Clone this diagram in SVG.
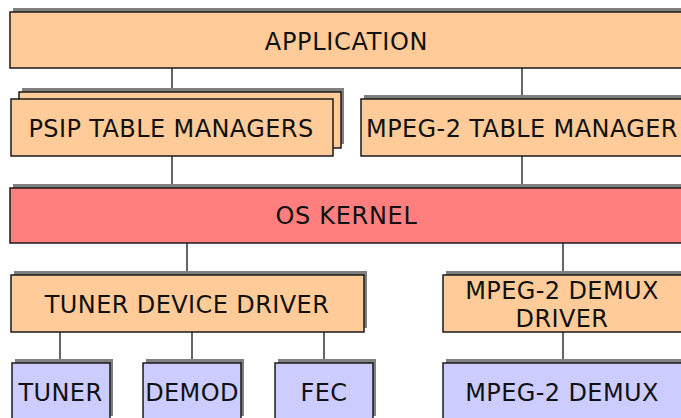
<svg xmlns="http://www.w3.org/2000/svg" width="681" height="418" viewBox="0 0 681 418">
  <style>
    .shadow { fill: #808080; }
    .box { stroke: #1a1a1a; stroke-width: 1.5; }
    .peach { fill: #FFCC99; }
    .kernel { fill: #FF7F7F; }
    .hw { fill: #CCCCFF; }
    .label { font-family: "DejaVu Sans", Verdana, sans-serif; font-size: 24px; letter-spacing: 0.4px; fill: #111; text-anchor: middle; }
    .wide { letter-spacing: 0.7px; }
    .link { stroke: #333; stroke-width: 1.5; fill: none; }
  </style>

  <!-- connectors between layers -->
  <g id="connectors">
    <line class="link" x1="172" y1="68" x2="172" y2="92"/>
    <line class="link" x1="522" y1="68" x2="522" y2="99"/>
    <line class="link" x1="172" y1="156" x2="172" y2="188"/>
    <line class="link" x1="522" y1="156" x2="522" y2="188"/>
    <line class="link" x1="187" y1="243" x2="187" y2="275"/>
    <line class="link" x1="563" y1="243" x2="563" y2="275"/>
    <line class="link" x1="60" y1="332" x2="60" y2="363"/>
    <line class="link" x1="192" y1="332" x2="192" y2="363"/>
    <line class="link" x1="324" y1="332" x2="324" y2="363"/>
    <line class="link" x1="563" y1="332" x2="563" y2="363"/>
  </g>

  <g id="application">
    <rect class="shadow" x="13" y="8" width="680" height="56"/>
    <rect class="box peach" x="10" y="12" width="680" height="56"/>
    <text class="label wide" x="346.5" y="49.5">APPLICATION</text>
  </g>

  <g id="psip-table-managers">
    <rect class="shadow" x="22" y="88" width="322" height="56"/>
    <rect class="box peach" x="19" y="92" width="322" height="56"/>
    <rect class="box peach" x="11" y="99" width="322" height="57"/>
    <text class="label" x="171" y="137">PSIP TABLE MANAGERS</text>
  </g>

  <g id="mpeg2-table-manager">
    <rect class="shadow" x="364" y="95" width="330" height="57"/>
    <rect class="box peach" x="361" y="99" width="330" height="57"/>
    <text class="label" x="522" y="137">MPEG-2 TABLE MANAGER</text>
  </g>

  <g id="os-kernel">
    <rect class="shadow" x="13" y="184" width="680" height="55"/>
    <rect class="box kernel" x="10" y="188" width="680" height="55"/>
    <text class="label wide" x="346.5" y="224">OS KERNEL</text>
  </g>

  <g id="tuner-device-driver">
    <rect class="shadow" x="14" y="271" width="353" height="57"/>
    <rect class="box peach" x="11" y="275" width="353" height="57"/>
    <text class="label" x="187" y="313">TUNER DEVICE DRIVER</text>
  </g>

  <g id="mpeg2-demux-driver">
    <rect class="shadow" x="446" y="271" width="250" height="57"/>
    <rect class="box peach" x="443" y="275" width="250" height="57"/>
    <text class="label" x="562" y="299">MPEG-2 DEMUX</text>
    <text class="label" x="562" y="327">DRIVER</text>
  </g>

  <g id="tuner">
    <rect class="shadow" x="15" y="359" width="98" height="57"/>
    <rect class="box hw" x="12" y="363" width="98" height="57"/>
    <text class="label" x="60.5" y="401">TUNER</text>
  </g>

  <g id="demod">
    <rect class="shadow" x="146" y="359" width="98" height="57"/>
    <rect class="box hw" x="143" y="363" width="98" height="57"/>
    <text class="label" x="192" y="401">DEMOD</text>
  </g>

  <g id="fec">
    <rect class="shadow" x="278" y="359" width="98" height="57"/>
    <rect class="box hw" x="275" y="363" width="98" height="57"/>
    <text class="label" x="324" y="401">FEC</text>
  </g>

  <g id="mpeg2-demux">
    <rect class="shadow" x="446" y="359" width="250" height="57"/>
    <rect class="box hw" x="443" y="363" width="250" height="57"/>
    <text class="label" x="562" y="401">MPEG-2 DEMUX</text>
  </g>
</svg>
